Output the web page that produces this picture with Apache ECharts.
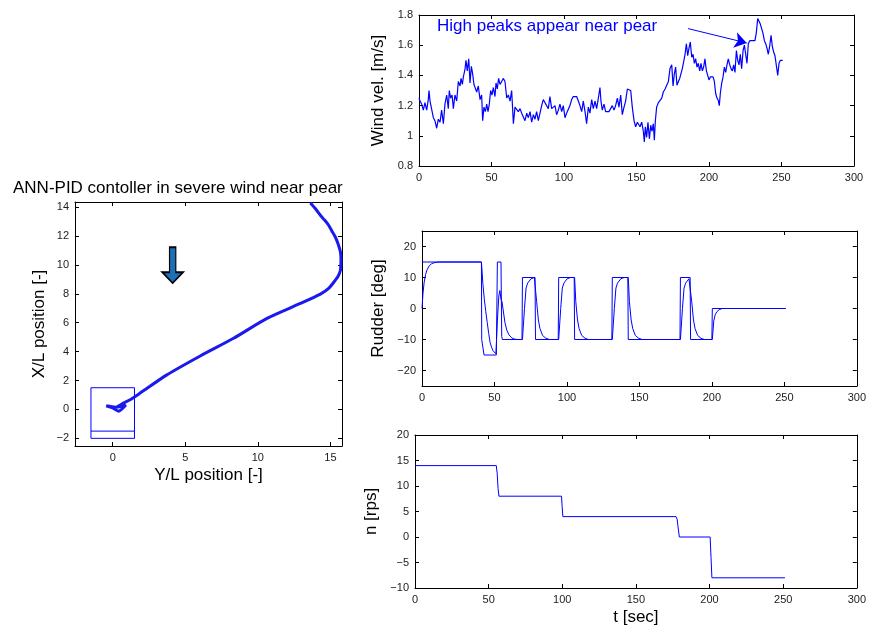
<!DOCTYPE html>
<html>
<head>
<meta charset="utf-8">
<script src="https://cdn.jsdelivr.net/npm/echarts@6/dist/echarts.min.js"></script>
<style>
html, body { margin: 0; background: #fff; }
#main { width: 869px; height: 630px; }
</style>
</head>
<body>
<div id="main"></div>
<script>
// wind velocity [m/s] vs t [sec]
const windT = [0,0.7,1.8,3.0,4.1,5.3,6.4,6.9,7.6,8.7,9.9,11.0,12.2,13.3,14.5,15.6,16.8,17.9,19.1,20.2,20.9,21.8,22.8,23.7,24.8,26.0,27.1,28.3,29.0,29.9,30.6,31.7,32.4,33.3,34.3,35.2,36.1,37.0,37.9,39.1,39.8,40.9,42.1,43.2,43.9,44.8,45.8,46.7,47.6,48.5,49.4,50.3,51.3,52.4,53.1,54.0,54.9,55.9,57.0,58.2,59.3,60.5,61.6,62.8,63.9,
  65.1,66.2,67.4,68.5,69.7,70.8,72.0,73.1,74.3,75.4,76.6,77.7,78.9,80.0,81.1,82.3,83.4,84.6,85.7,86.9,88.0,89.2,90.3,91.5,92.6,93.8,94.9,96.1,97.2,98.4,99.5,100.7,101.8,103.0,104.1,105.3,106.4,107.6,108.7,109.9,111.0,112.2,113.3,114.5,115.6,116.8,117.9,119.1,120.2,121.4,122.5,123.7,124.8,125.5,126.4,127.6,128.7,129.9,131.0,132.2,133.3,134.5,135.6,136.8,137.9,139.1,140.2,141.4,142.5,143.7,144.8,146.0,
  147.1,148.3,149.4,150.6,151.7,152.4,153.6,154.7,155.4,156.1,157.0,157.9,158.9,159.8,160.7,161.6,162.3,163.0,163.9,165.1,166.2,167.4,168.5,169.7,170.8,172.0,173.1,174.3,175.2,176.1,177.0,177.9,178.9,179.8,180.7,181.6,182.5,183.5,184.4,185.3,186.2,187.1,188.1,189.0,189.9,190.8,191.7,192.6,193.6,194.5,195.4,196.3,197.2,198.2,199.1,200.0,200.9,201.8,202.8,203.7,204.6,205.5,206.4,207.1,207.8,208.7,209.7,210.6,211.5,212.4,213.3,214.3,215.2,216.1,217.0,217.9,218.9,219.8,220.7,221.6,222.5,223.5,224.4,225.3,226.2,227.1,228.1,229.0,229.9,230.8,231.7,232.6,233.6,234.5,235.4,236.3,237.2,238.2,239.1,240.0,240.9,241.8,242.8,243.7,244.6,245.5,246.4,247.4,248.3,249.2,250.1,250.8];
const windV = [1.25,1.23,1.21,1.17,1.22,1.17,1.24,1.30,1.23,1.24,1.12,1.10,1.05,1.11,1.09,1.17,1.08,1.21,1.27,1.18,1.30,1.25,1.27,1.18,1.27,1.23,1.36,1.33,1.38,1.34,1.39,1.44,1.50,1.43,1.51,1.35,1.46,1.41,1.34,1.35,1.29,1.33,1.24,1.27,1.10,1.19,1.16,1.21,1.16,1.21,1.30,1.27,1.32,1.26,1.35,1.31,1.38,1.34,1.36,1.38,1.36,1.25,1.27,1.23,1.30,
  1.08,1.19,1.18,1.16,1.18,1.15,1.16,1.10,1.15,1.12,1.16,1.09,1.14,1.11,1.16,1.10,1.11,1.20,1.24,1.25,1.20,1.18,1.26,1.18,1.17,1.20,1.14,1.17,1.21,1.16,1.20,1.12,1.15,1.15,1.20,1.24,1.26,1.27,1.26,1.23,1.20,1.16,1.23,1.16,1.08,1.19,1.15,1.24,1.18,1.23,1.18,1.25,1.32,1.23,1.17,1.21,1.16,1.15,1.16,1.15,1.20,1.17,1.20,1.25,1.19,1.27,1.14,1.19,1.23,1.31,1.32,1.30,
  1.19,1.10,1.06,1.09,1.08,1.06,1.09,1.03,0.96,1.06,0.99,1.09,0.98,1.07,1.03,1.08,0.97,1.10,1.19,1.22,1.23,1.25,1.29,1.31,1.32,1.36,1.445,1.47,1.33,1.41,1.455,1.335,1.36,1.38,1.37,1.445,1.49,1.54,1.61,1.53,1.58,1.62,1.52,1.54,1.48,1.51,1.455,1.48,1.43,1.48,1.43,1.455,1.51,1.43,1.40,1.37,1.39,1.38,1.39,1.36,1.28,1.25,1.235,1.20,1.28,1.345,1.39,1.455,1.42,1.47,1.51,1.47,1.445,1.43,1.47,1.42,1.565,1.50,1.47,1.54,1.445,1.565,1.60,1.61,1.48,1.61,1.63,1.62,1.63,1.62,1.63,1.68,1.776,1.765,1.74,1.71,1.68,1.63,1.61,1.58,1.54,1.59,1.665,1.59,1.555,1.53,1.52,1.40,1.48,1.50,1.50,1.50];

// rudder command and actual angle [deg]
const cmdT = [0,41,41.2,42.8,51.3,52,54.5,55.0,55.5,69,69.3,78,78.3,94,94.3,105,105.3,131,131.3,142,142.3,178,178.3,185,185.3,200,200.3,251];
const cmdV = [15,15,-10,-15,-15,15,15,-9,-10,-10,10,10,-10,-10,10,10,-10,-10,10,10,-10,-10,10,10,-10,-10,0,0];
const rudT = [0,0.7,1.5,2.5,3.5,5,6.5,8,10,12,41,42,43,44,45,46,47,48,49,50,51,52,53,53.7,54.5,55.2,56.5,57.2,58.5,60,62,64,66,
  69.3,70,70.7,71.8,72.9,75.2,77.5,78.3,79.1,80.3,81.4,83.2,85.5,87.8,
  94.3,95,95.7,96.8,97.9,100.2,102.5,105.3,106.1,107.3,108.4,110.2,112.5,114.8,
  131.3,132,132.7,133.8,134.9,137.2,139.5,142.3,143.1,144.3,145.4,147.2,149.5,151.8,
  178.3,179,179.7,180.8,181.9,184.2,185.3,186.1,187.3,188.4,190.2,192.5,194.8,
  200.3,201.3,202.3,203.5,205,207,251];
const rudV = [0,5,8.5,11,12.5,13.8,14.4,14.7,14.9,15,15,8,3,-1,-4.5,-8,-11,-12.5,-13.6,-14.2,-14.6,-4,4,5.8,3,2.2,1.6,-4.5,-7,-8.5,-9.5,-9.9,-10,
  -10,-5,0,6.6,8.2,9.6,10,10,2.2,-3.7,-6.5,-8.7,-9.6,-10,
  -10,-5,0,6.6,8.2,9.6,10,10,2.2,-3.7,-6.5,-8.7,-9.6,-10,
  -10,-5,0,6.6,8.2,9.6,10,10,2.2,-3.7,-6.5,-8.7,-9.6,-10,
  -10,-5,0,6.6,8.2,9.6,9.8,2.2,-3.7,-6.5,-8.7,-9.6,-10,
  -10,-4,-2,-1,-0.4,0,0];

// propeller revolution n [rps]
const nT = [0,55.2,55.8,56.4,57,99.5,99.9,100.4,177.2,178,178.6,179.5,200.4,201,201.6,251.2];
const nV = [14,14,12.5,9.5,8,8,6,4,4,3.5,2,0,0,-4,-8,-8];

// trajectory: Y/L (horizontal), X/L (vertical)
const trajY = [13.62,14.0,14.31,14.6,14.88,15.1,15.34,15.55,15.69,15.73,15.69,15.55,15.34,14.88,14.31,12.93,10.63,8.33,6.03,3.73,1.89,1.2,0.74,0.2,-0.45,0.0,0.4,0.9,0.3];
const trajX = [14.28,13.85,13.43,13.1,12.74,12.35,11.93,11.4,10.9,10.32,9.63,9.25,8.94,8.37,7.98,7.33,6.30,4.92,3.70,2.39,1.13,0.67,0.44,0.15,0.25,0.1,-0.12,0.3,0.15];
const berthBoxY = [-1.5,1.5,1.5,-1.5,-1.5];
const berthBoxX = [-2,-2,1.5,1.5,-2];
const berthLineY = [-1.5,1.5];
const berthLineX = [-1.5,-1.5];
const windArrow = [4.13, 9.98];

// tick labels
const tTicks = [0,50,100,150,200,250,300];
const windTicks = [0.8,1,1.2,1.4,1.6,1.8];
const rudTicks = [-20,-10,0,10,20];
const nTicks = [-10,-5,0,5,10,15,20];
const trajYTicks = [0,5,10,15];
const trajXTicks = [-2,0,2,4,6,8,10,12,14];

const FONT = 'Liberation Sans';
const BLUE = '#0000ff';
const pairs = (a, b) => a.map((v, i) => [v, b[i]]);
const minus = v => String(v).replace('-', '\u2212');

function axisPair(kind, grid, min, max, ticks, name, nameGap) {
  const common = {
    type: 'value', gridIndex: grid, min: min, max: max,
    splitLine: { show: false },
    axisLine: { show: true, onZero: false, lineStyle: { color: '#000', width: 1 } },
    axisTick: { show: true, inside: true, length: 4, customValues: ticks, lineStyle: { color: '#000' } }
  };
  const main = Object.assign({}, common, {
    position: kind === 'x' ? 'bottom' : 'left',
    name: name, nameLocation: 'middle', nameGap: nameGap,
    nameTextStyle: { fontSize: 17, color: '#000', fontFamily: FONT },
    axisLabel: { show: true, customValues: ticks, margin: 6, fontSize: 11, color: '#222', fontFamily: FONT, formatter: minus }
  });
  const mirror = Object.assign({}, common, {
    position: kind === 'x' ? 'top' : 'right',
    axisLabel: { show: false }
  });
  return [main, mirror];
}

const myChart = echarts.init(document.getElementById('main'));
const option = {
  animation: false,
  backgroundColor: '#fff',
  title: {
    text: 'ANN-PID contoller in severe wind near pear',
    left: 8, top: 175,
    textStyle: { fontSize: 17, fontWeight: 'normal', color: '#000', fontFamily: FONT }
  },
  grid: [
    { left: 419, top: 15, width: 435, height: 151 },
    { left: 422, top: 231, width: 438, height: 155 },
    { left: 415, top: 435, width: 444, height: 153 },
    { left: 75, top: 202, width: 267, height: 244 }
  ],
  xAxis: [].concat(
    axisPair('x', 0, 0, 300, tTicks, '', 0),
    axisPair('x', 1, 0, 300, tTicks, '', 0),
    axisPair('x', 2, 0, 300, tTicks, 't [sec]', 21),
    axisPair('x', 3, -2.6, 15.8, trajYTicks, 'Y/L position [-]', 21)
  ),
  yAxis: [].concat(
    axisPair('y', 0, 0.8, 1.8, windTicks, 'Wind vel. [m/s]', 32),
    axisPair('y', 1, -25, 25, rudTicks, 'Rudder [deg]', 35),
    axisPair('y', 2, -10, 20, nTicks, 'n [rps]', 35),
    axisPair('y', 3, -2.53, 14.35, trajXTicks, 'X/L position [-]', 27)
  ),
  series: [
    {
      name: 'wind', type: 'line', xAxisIndex: 0, yAxisIndex: 0,
      data: pairs(windT, windV), showSymbol: false,
      lineStyle: { color: BLUE, width: 1.2 },
      markLine: {
        silent: true, symbol: ['none', 'arrow'], symbolSize: 12,
        label: { show: false },
        lineStyle: { color: BLUE, width: 1, type: 'solid' },
        data: [[{ coord: [185.5, 1.71] }, { coord: [226, 1.615] }]]
      }
    },
    {
      name: 'command', type: 'line', xAxisIndex: 2, yAxisIndex: 2,
      data: pairs(cmdT, cmdV), showSymbol: false,
      lineStyle: { color: BLUE, width: 1 }
    },
    {
      name: 'rudder', type: 'line', xAxisIndex: 2, yAxisIndex: 2,
      data: pairs(rudT, rudV), showSymbol: false,
      lineStyle: { color: BLUE, width: 1 }
    },
    {
      name: 'n', type: 'line', xAxisIndex: 4, yAxisIndex: 4,
      data: pairs(nT, nV), showSymbol: false,
      lineStyle: { color: BLUE, width: 1 }
    },
    {
      name: 'berth', type: 'line', xAxisIndex: 6, yAxisIndex: 6,
      data: pairs(berthBoxY, berthBoxX), showSymbol: false,
      lineStyle: { color: BLUE, width: 1 }
    },
    {
      name: 'berthLine', type: 'line', xAxisIndex: 6, yAxisIndex: 6,
      data: pairs(berthLineY, berthLineX), showSymbol: false,
      lineStyle: { color: BLUE, width: 1 }
    },
    {
      name: 'trajectory', type: 'line', xAxisIndex: 6, yAxisIndex: 6,
      data: pairs(trajY, trajX), showSymbol: false, smooth: 0.25,
      lineStyle: { color: '#1a1aee', width: 3 }
    },
    {
      name: 'windDir', type: 'scatter', xAxisIndex: 6, yAxisIndex: 6,
      data: [windArrow],
      symbol: 'path://M7,0 L13,0 L13,25 L20,25 L10,36 L0,25 L7,25 Z',
      symbolSize: [21, 36],
      itemStyle: { color: '#1d6fb8', borderColor: '#000', borderWidth: 1.5, opacity: 1 }
    }
  ],
  graphic: [
    {
      type: 'text', left: 437, top: 18,
      style: { text: 'High peaks appear near pear', fill: BLUE, fontSize: 17, fontFamily: FONT }
    }
  ]
};
myChart.setOption(option);
</script>
</body>
</html>
